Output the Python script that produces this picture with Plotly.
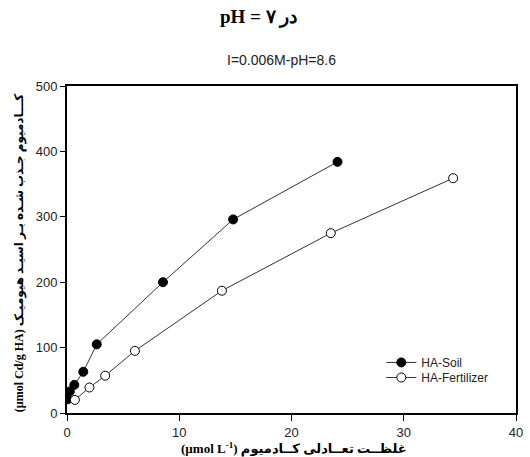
import plotly.graph_objects as go

# Cd adsorption isotherm data (equilibrium concentration, amount adsorbed)
soil_conc = [0.05, 0.25, 0.65, 1.45, 2.65, 8.55, 14.8, 24.1]
soil_ads = [21, 33, 43, 63, 105, 200, 296, 384]

fert_conc = [0.7, 2.0, 3.4, 6.05, 13.8, 23.5, 34.4]
fert_ads = [20, 39, 57, 95, 187, 275, 359]

x_ticks = [0, 10, 20, 30, 40]
y_ticks = [0, 100, 200, 300, 400, 500]

legend_font = dict(family="Liberation Sans, Arial", size=12, color="#222222")

fig = go.Figure()
fig.add_trace(go.Scatter(
    x=soil_conc, y=soil_ads, mode="lines+markers", name="HA-Soil",
    line=dict(color="#333333", width=1),
    marker=dict(symbol="circle", size=9, color="black",
                line=dict(color="black", width=1)),
    legend="legend",
))
fig.add_trace(go.Scatter(
    x=fert_conc, y=fert_ads, mode="lines+markers", name="HA-Fertilizer",
    line=dict(color="#333333", width=1),
    marker=dict(symbol="circle", size=9, color="white",
                line=dict(color="black", width=1)),
    legend="legend2",
))

axis_common = dict(
    showgrid=False, zeroline=False, showline=True, mirror=True,
    linecolor="black", linewidth=2, ticks="outside",
    tickcolor="black", tickwidth=1,
    tickfont=dict(family="Liberation Sans, Arial", size=13, color="#222222"),
)

fig.update_layout(
    width=530, height=457,
    margin=dict(l=67, r=7, t=86, b=44),
    paper_bgcolor="white", plot_bgcolor="white",
    showlegend=True,
    legend=dict(x=0.70, y=0.199, xanchor="left", yanchor="top",
                bgcolor="rgba(0,0,0,0)", font=legend_font),
    legend2=dict(x=0.70, y=0.153, xanchor="left", yanchor="top",
                 bgcolor="rgba(0,0,0,0)", font=legend_font),
    xaxis=dict(range=[0, 40], tickvals=x_ticks, ticklen=6, **axis_common),
    yaxis=dict(range=[0, 500], tickvals=y_ticks, ticklen=5, **axis_common),
)

fig.add_annotation(
    text="<b>pH = ۷ در</b>", xref="paper", yref="paper", x=0.427, y=1.0,
    yanchor="middle", yshift=69, showarrow=False,
    font=dict(family="Liberation Serif, Times New Roman", size=19, color="black"),
)
fig.add_annotation(
    text="I=0.006M-pH=8.6", xref="paper", yref="paper", x=0.478, y=1.0,
    yanchor="middle", yshift=26, showarrow=False,
    font=dict(family="Liberation Sans, Arial", size=14, color="#222222"),
)
fig.add_annotation(
    text="<b>(µmol L<sup>-1</sup>) غلظــت تعــادلی کــادمیوم</b>",
    xref="paper", yref="paper", x=0.506, y=0, yanchor="middle", yshift=-35,
    showarrow=False,
    font=dict(family="Liberation Serif, DejaVu Sans", size=13, color="black"),
)
fig.add_annotation(
    text="<b>(µmol Cd/g HA) کـــادمیوم جـذب شـده بـر اسیـد هیومیـک</b>",
    xref="paper", yref="paper", x=0, xshift=-57, y=0.49, textangle=-90,
    showarrow=False,
    font=dict(family="Liberation Serif, DejaVu Sans", size=12, color="black"),
)

fig.write_html("out.html")
